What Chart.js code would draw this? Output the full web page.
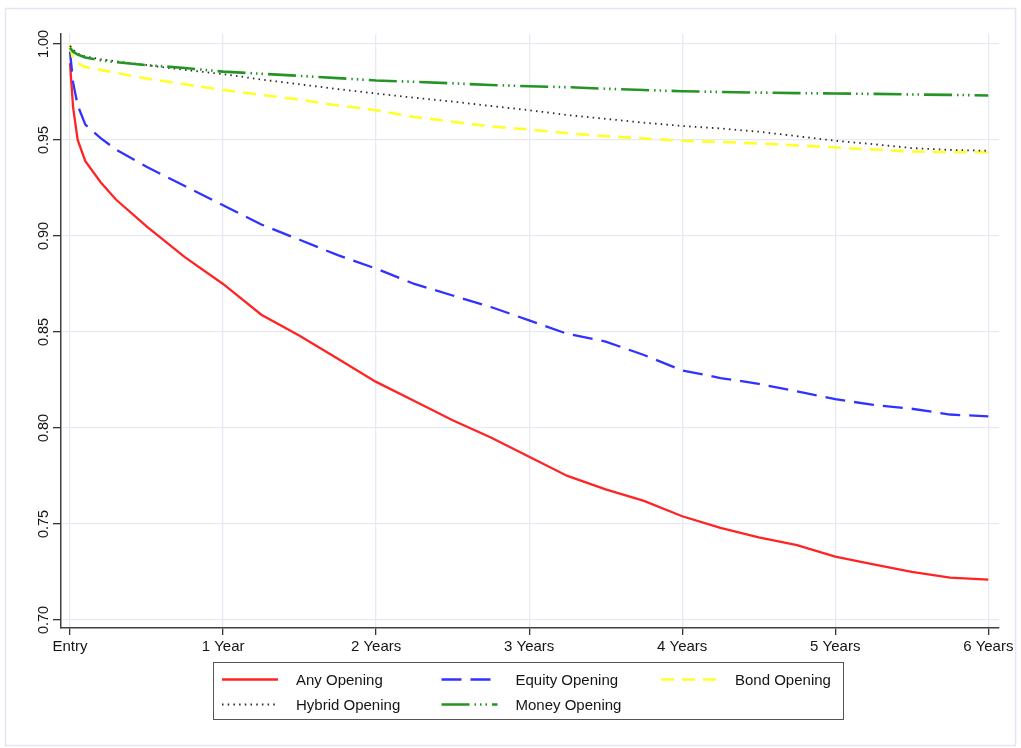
<!DOCTYPE html>
<html>
<head>
<meta charset="utf-8">
<script src="https://cdn.jsdelivr.net/npm/chart.js@4.4.1/dist/chart.umd.min.js"></script>
<style>
html, body { margin: 0; padding: 0; background: #fff; }
#wrap { position: relative; width: 1021px; height: 748px; }
</style>
</head>
<body>
<div id="wrap"><canvas id="survivalChart" width="1021" height="748"></canvas></div>
<script>
// tiempo desde la entrada (años)
const years = [0, 0.02, 0.05, 0.1, 0.2, 0.3, 0.5, 0.75, 1, 1.25, 1.5, 1.75, 2, 2.25, 2.5, 2.75,
               3, 3.25, 3.5, 3.75, 4, 4.25, 4.5, 4.75, 5, 5.25, 5.5, 5.75, 6];

const anyOpening    = [0.990, 0.967, 0.950, 0.939, 0.928, 0.919, 0.905, 0.889, 0.875, 0.859, 0.848, 0.836, 0.824, 0.814, 0.804, 0.795,
                       0.785, 0.775, 0.768, 0.762, 0.754, 0.748, 0.743, 0.739, 0.733, 0.729, 0.725, 0.722, 0.721];
const equityOpening = [0.996, 0.980, 0.968, 0.958, 0.951, 0.945, 0.936, 0.926, 0.916, 0.906, 0.898, 0.890, 0.883, 0.875, 0.869, 0.863,
                       0.856, 0.849, 0.845, 0.838, 0.830, 0.826, 0.823, 0.819, 0.815, 0.812, 0.810, 0.807, 0.806];
const bondOpening   = [0.9995, 0.992, 0.990, 0.988, 0.9865, 0.985, 0.982, 0.979, 0.976, 0.9735, 0.971, 0.968, 0.9655, 0.962, 0.9595, 0.957,
                       0.9555, 0.9535, 0.952, 0.9508, 0.9496, 0.949, 0.9482, 0.9472, 0.9461, 0.945, 0.944, 0.9436, 0.9436];
const hybridOpening = [0.999, 0.997, 0.995, 0.9935, 0.992, 0.991, 0.989, 0.9865, 0.9843, 0.9815, 0.979, 0.9765, 0.9742, 0.972, 0.970, 0.9677,
                       0.9655, 0.963, 0.961, 0.959, 0.9573, 0.956, 0.9543, 0.952, 0.9496, 0.9478, 0.9458, 0.9448, 0.9444];
const moneyOpening  = [0.998, 0.996, 0.9945, 0.993, 0.9915, 0.9905, 0.989, 0.9875, 0.9856, 0.9845, 0.9834, 0.9822, 0.981, 0.9803, 0.9795, 0.9786,
                       0.978, 0.9775, 0.9767, 0.976, 0.9754, 0.975, 0.9747, 0.9744, 0.9742, 0.974, 0.9737, 0.9735, 0.9732];

const seriesLabels = ['Any Opening', 'Equity Opening', 'Bond Opening', 'Hybrid Opening', 'Money Opening'];

const xTickValues = [0, 1, 2, 3, 4, 5, 6];
const xTickLabels = ['Entry', '1 Year', '2 Years', '3 Years', '4 Years', '5 Years', '6 Years'];
const yTickValues = [0.70, 0.75, 0.80, 0.85, 0.90, 0.95, 1.00];
const yTickLabels = ['0.70', '0.75', '0.80', '0.85', '0.90', '0.95', '1.00'];

const FONT = "'Liberation Sans', Arial, sans-serif";

function toPoints(vals) {
    return years.map((t, i) => ({ x: t, y: vals[i] }));
}

function lineDataset(label, vals, color, width, dash, order) {
    return {
        label: label,
        data: toPoints(vals),
        borderColor: color,
        borderWidth: width,
        borderDash: dash,
        pointRadius: 0,
        tension: 0,
        fill: false,
        order: order
    };
}

// marco exterior, etiquetas giradas del eje Y y leyenda con recuadro
const stataDecor = {
    id: 'stataDecor',
    beforeDraw(chart) {
        const ctx = chart.ctx;
        ctx.save();
        ctx.fillStyle = '#fff';
        ctx.fillRect(0, 0, chart.width, chart.height);
        ctx.strokeStyle = '#E3E7F1';
        ctx.lineWidth = 1.5;
        ctx.strokeRect(5.5, 8.5, 1010, 737);
        ctx.restore();
    },
    afterDraw(chart) {
        const ctx = chart.ctx;
        const yScale = chart.scales.y;
        ctx.save();
        ctx.fillStyle = '#151515';
        ctx.font = '14.5px ' + FONT;
        ctx.textAlign = 'center';
        ctx.textBaseline = 'alphabetic';
        yTickValues.forEach((v, i) => {
            const py = yScale.getPixelForValue(v);
            ctx.save();
            ctx.translate(48, py);
            ctx.rotate(-Math.PI / 2);
            ctx.fillText(yTickLabels[i], 0, 0);
            ctx.restore();
        });

        // leyenda
        const boxW = 630, boxH = 57;
        const boxX = 213.5;
        const boxY = chart.chartArea.bottom + 34.5;
        ctx.strokeStyle = '#555';
        ctx.lineWidth = 1;
        ctx.strokeRect(boxX, boxY, boxW, boxH);
        ctx.font = '15px ' + FONT;
        ctx.textAlign = 'left';
        ctx.textBaseline = 'middle';
        chart.data.datasets.forEach((ds, i) => {
            const col = i % 3, row = Math.floor(i / 3);
            const x0 = boxX + 8.5 + col * 219.5;
            const y0 = boxY + 17 + row * 25;
            ctx.save();
            ctx.strokeStyle = ds.borderColor;
            ctx.lineWidth = ds.borderWidth;
            ctx.setLineDash(ds.borderDash || []);
            ctx.beginPath();
            ctx.moveTo(x0, y0);
            ctx.lineTo(x0 + 56, y0);
            ctx.stroke();
            ctx.restore();
            ctx.fillStyle = '#151515';
            ctx.fillText(ds.label, x0 + 74, y0 + 1);
        });
        ctx.restore();
    }
};

const ctx = document.getElementById('survivalChart').getContext('2d');
const chart = new Chart(ctx, {
    type: 'line',
    data: {
        datasets: [
            lineDataset(seriesLabels[0], anyOpening, '#FF2424', 2.3, [], 4),
            lineDataset(seriesLabels[1], equityOpening, '#3232FF', 2.3, [20, 9], 3),
            lineDataset(seriesLabels[2], bondOpening, '#FFFF2A', 2.6, [13, 8], 2),
            lineDataset(seriesLabels[3], hybridOpening, '#2a2a2a', 1.8, [1.5, 4.2], 1),
            lineDataset(seriesLabels[4], moneyOpening, '#249424', 2.6, [28, 5, 1.5, 4, 1.5, 4, 1.5, 5], 0)
        ]
    },
    options: {
        responsive: false,
        animation: false,
        events: [],
        layout: {
            autoPadding: false,
            padding: { left: 0, top: 34, right: 22, bottom: 90 }
        },
        plugins: {
            legend: { display: false },
            tooltip: { enabled: false }
        },
        scales: {
            x: {
                type: 'linear',
                min: -0.059,
                max: 6.07,
                afterBuildTicks: s => { s.ticks = xTickValues.map(v => ({ value: v })); },
                afterFit: s => { s.height = 30; },
                ticks: {
                    autoSkip: false,
                    maxRotation: 0,
                    padding: 3,
                    color: '#151515',
                    font: { size: 15, family: FONT },
                    callback: (v, i) => xTickLabels[i]
                },
                grid: { color: '#E6EAF3', lineWidth: 1.3, tickColor: '#333', tickLength: 7 },
                border: { display: true, color: '#404040', width: 1.5 }
            },
            y: {
                type: 'linear',
                min: 0.6958,
                max: 1.0052,
                afterBuildTicks: s => { s.ticks = yTickValues.map(v => ({ value: v })); },
                afterFit: s => { s.width = 61; },
                ticks: { display: false },
                grid: { color: '#E6EAF3', lineWidth: 1.3, tickColor: '#333', tickLength: 8 },
                border: { display: true, color: '#404040', width: 1.5 }
            }
        }
    },
    plugins: [stataDecor]
});
</script>
</body>
</html>
